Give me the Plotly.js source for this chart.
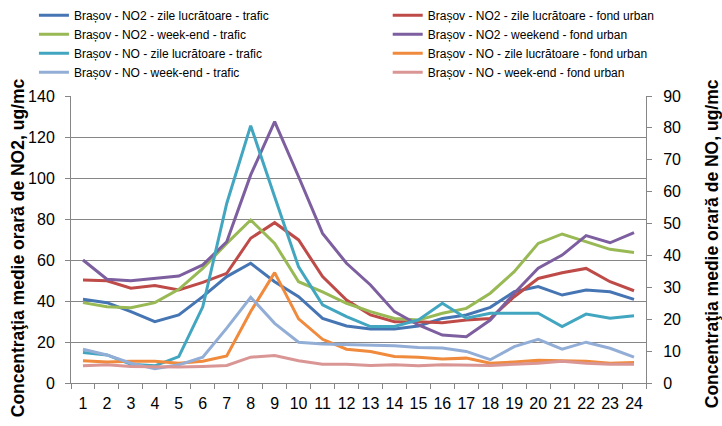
<!DOCTYPE html>
<html>
<head>
<meta charset="utf-8">
<script src="https://cdn.plot.ly/plotly-3.0.1.min.js"></script>
<style>html,body{margin:0;padding:0;background:#fff;}#chart{width:722px;height:426px;}</style>
</head>
<body>
<div id="chart"></div>
<script>
const hours = ['1','2','3','4','5','6','7','8','9','10','11','12','13','14','15','16','17','18','19','20','21','22','23','24'];

// NO2 (left axis, ug/mc)
const no2ZileTrafic = [40.8,39.2,34.8,29.9,33.2,42.1,51.9,58.4,49.4,42.1,31.5,27.8,26.3,26.3,27.8,31.5,33.2,36.9,44.5,47.0,42.9,45.4,44.5,40.8];
const no2ZileFond   = [50.2,49.9,46.2,47.5,45.4,49.1,53.5,70.6,78.2,69.8,51.9,40.5,33.2,29.9,29.9,29.4,30.7,31.5,42.1,51.0,53.8,55.9,49.4,45.0];
const no2WeekTrafic = [39.2,37.2,36.7,39.2,45.7,55.9,68.1,79.5,68.1,49.4,44.5,38.9,34.8,31.5,30.7,34.0,36.4,43.8,54.3,68.1,72.7,68.9,65.2,63.7];
const no2WeekFond   = [60.0,50.6,49.9,51.0,52.2,57.6,68.9,101.5,127.5,100.6,73.0,58.4,47.8,34.8,28.3,23.4,22.6,30.7,43.8,56.0,62.4,71.9,68.4,73.3];

// NO (right axis, ug/mc)
const noZileTrafic = [9.6,8.8,5.9,5.4,8.3,23.9,56.3,80.7,58.4,36.4,24.5,20.8,17.7,17.7,19.8,25.0,20.3,21.9,21.9,21.9,17.7,21.6,20.3,21.1];
const noZileFond   = [7.0,6.6,6.8,6.8,6.2,6.8,8.5,22.4,34.6,20.1,13.7,10.6,9.9,8.3,8.1,7.5,7.8,6.2,6.6,7.1,7.0,6.8,6.2,6.4];
const noWeekTrafic = [10.6,8.8,6.2,4.5,5.7,8.1,17.2,26.9,18.7,12.8,12.2,12.0,12.0,11.7,11.1,11.0,9.9,7.3,11.4,13.7,10.6,12.8,10.9,8.1];
const noWeekFond   = [5.4,5.7,5.2,5.0,5.0,5.2,5.5,8.1,8.6,7.0,5.9,5.9,5.5,5.7,5.4,5.7,5.7,5.5,5.9,6.2,6.8,6.2,5.9,5.9];

const seriesNames = [
  'Brașov - NO2 - zile lucrătoare - trafic',
  'Brașov - NO2 - zile lucrătoare - fond urban',
  'Brașov - NO2 - week-end - trafic',
  'Brașov - NO2 - weekend - fond urban',
  'Brașov - NO - zile lucrătoare - trafic',
  'Brașov - NO - zile lucrătoare - fond urban',
  'Brașov - NO - week-end - trafic',
  'Brașov - NO - week-end - fond urban'
];
const seriesValues = [no2ZileTrafic,no2ZileFond,no2WeekTrafic,no2WeekFond,noZileTrafic,noZileFond,noWeekTrafic,noWeekFond];
const seriesAxes = ['y','y','y','y','y2','y2','y2','y2'];
const seriesColors = ['#4675B4','#BE4B48','#98B954','#7D5FA0','#43A6C0','#F08A3C','#93AED6','#D99694'];
const seriesLegend = ['legend','legend2','legend','legend2','legend','legend2','legend','legend2'];

const traces = seriesNames.map((n,i)=>({
  x: hours, y: seriesValues[i], name: n, yaxis: seriesAxes[i],
  type: 'scatter', mode: 'lines', legend: seriesLegend[i],
  line: {color: seriesColors[i], width: 3}
}));

const fam = 'Liberation Sans, Arial, sans-serif';
const xTickFont = {family: fam, size: 16, color: '#000'};
const yTickFont = {family: fam, size: 16, color: '#000'};
const titleFont = {family: fam, size: 17.5, color: '#000', weight: 'bold'};
const legendFont = {family: fam, size: 12, color: '#000'};

const legendBase = {
  orientation: 'v', xref: 'container', yref: 'container',
  y: 0.998, xanchor: 'left', yanchor: 'top',
  font: legendFont, bgcolor: 'rgba(0,0,0,0)', traceorder: 'normal'
};

const layout = {
  width: 722, height: 426,
  margin: {l: 71, r: 76, t: 96, b: 43, autoexpand: false},
  paper_bgcolor: '#fff', plot_bgcolor: '#fff',
  showlegend: true,
  legend: Object.assign({}, legendBase, {x: 0.047}),
  legend2: Object.assign({}, legendBase, {x: 0.537}),
  xaxis: {
    type: 'category', range: [-0.5, 23.5], tickfont: xTickFont, tickangle: 0,
    showline: true, linecolor: '#868686', linewidth: 1,
    ticks: 'outside', tickson: 'boundaries', ticklen: 5, tickcolor: '#868686',
    ticklabelstandoff: 6, automargin: false,
    showgrid: false, zeroline: false
  },
  yaxis: {
    range: [0, 140], dtick: 20, tickfont: yTickFont, automargin: false,
    showline: true, linecolor: '#868686', linewidth: 1,
    ticks: 'outside', ticklen: 5, tickcolor: '#868686', ticklabelstandoff: 7,
    showgrid: true, gridcolor: '#868686', gridwidth: 1, zeroline: false
  },
  yaxis2: {
    range: [0, 90], dtick: 10, tickfont: yTickFont, overlaying: 'y', side: 'right', automargin: false,
    showline: true, linecolor: '#868686', linewidth: 1,
    ticks: 'outside', ticklen: 5, tickcolor: '#868686', ticklabelstandoff: 8,
    showgrid: false, zeroline: false
  },
  annotations: [
    {text: 'Concentraţia medie orară de NO2, ug/mc', xref: 'paper', yref: 'paper',
     x: -0.092, y: 0.47, xanchor: 'center', yanchor: 'middle', textangle: -90,
     showarrow: false, font: titleFont},
    {text: 'Concentraţia medie orară de NO, ug/mc', xref: 'paper', yref: 'paper',
     x: 1.115, y: 0.484, xanchor: 'center', yanchor: 'middle', textangle: -90,
     showarrow: false, font: titleFont}
  ]
};

Plotly.newPlot('chart', traces, layout, {displayModeBar: false, staticPlot: true});
</script>
</body>
</html>
